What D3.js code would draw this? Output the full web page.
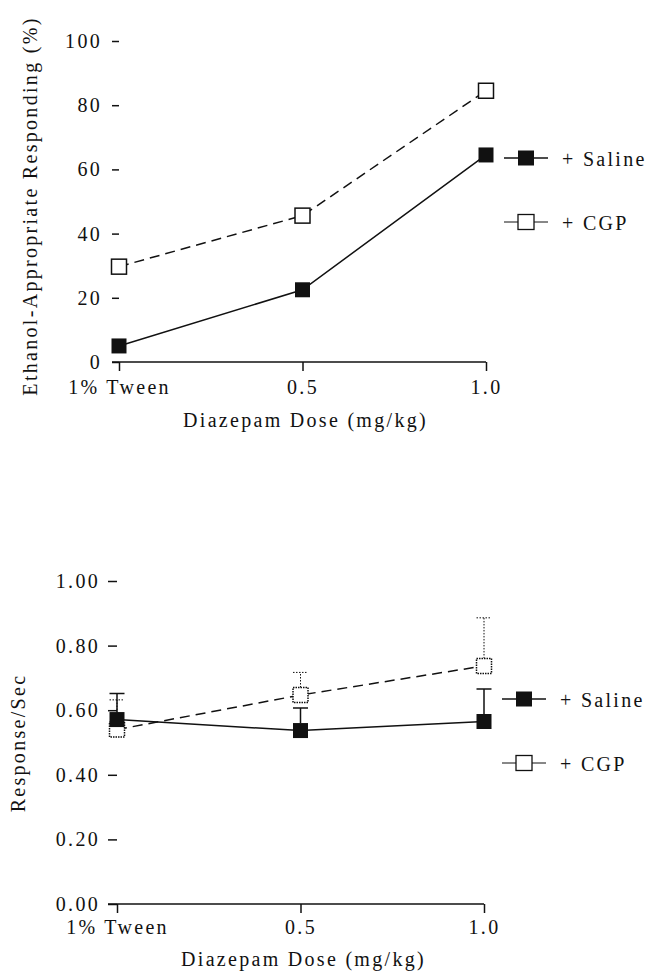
<!DOCTYPE html>
<html>
<head>
<meta charset="utf-8">
<script src="https://cdn.jsdelivr.net/npm/d3@7"></script>
<style>
  body { margin: 0; background: #fff; }
  svg { display: block; }
  svg text { font-family: "Liberation Serif", Tinos, "Times New Roman", Times, "DejaVu Serif", "Noto Serif", serif; fill: #111; }
</style>
</head>
<body>
<svg id="chart" width="647" height="973"></svg>
<script>
'use strict'

// values
const doses = ['1% Tween', '0.5', '1.0']
const etohSaline = [5, 22.5, 64.5]
const etohCGP = [29.7, 45.6, 84.5]
const etohTicks = [0, 20, 40, 60, 80, 100]

const rateSaline = [0.571, 0.537, 0.565]
const rateSalineSem = [0.081, 0.07, 0.101]
const rateCGP = [0.54, 0.647, 0.737]
const rateCGPSem = [0.092, 0.07, 0.149]
const rateTicks = [0, 0.2, 0.4, 0.6, 0.8, 1.0]

const seriesNames = ['+ Saline', '+ CGP']

const svg = d3.select('#chart')
const FS = 20
const LS = 2.3
const SQ = 15

function styleText (sel) {
  sel.attr('font-family', null)
    .style('font-size', FS + 'px')
    .style('letter-spacing', LS + 'px')
    .attr('fill', '#111')
}

function panel (opt) {
  const x = d3.scalePoint().domain(doses).range([opt.x0, opt.x1])
  const y = d3.scaleLinear().domain([0, opt.ymax]).range([opt.yb, opt.yt])
  const g = svg.append('g')

  // y axis: tick dashes only, no spine
  const ya = g.append('g')
    .attr('transform', `translate(${opt.x0},0)`)
    .call(d3.axisLeft(y)
      .tickValues(opt.ticks)
      .tickFormat(opt.fmt)
      .tickSize(opt.ytick)
      .tickPadding(opt.ypad))
  ya.attr('font-family', null).attr('font-size', null)
  ya.select('.domain').remove()
  ya.selectAll('.tick line').attr('stroke', '#111').attr('stroke-width', 1.5)
  ya.selectAll('.tick text').call(styleText)

  // x axis
  const xa = g.append('g')
    .attr('transform', `translate(0,${opt.yb})`)
    .call(d3.axisBottom(x).tickSize(9).tickSizeOuter(0).tickPadding(opt.xpad))
  xa.attr('font-family', null).attr('font-size', null)
  xa.select('.domain').remove()
  xa.selectAll('.tick line')
    .attr('y1', 0).attr('y2', 9)
    .attr('stroke', '#111').attr('stroke-width', 1.5)
  xa.selectAll('.tick text').call(styleText)
  xa.append('path')
    .attr('d', `M${opt.x0 - opt.ytick},0H${opt.x1}`)
    .attr('stroke', '#111').attr('stroke-width', 1.5)

  g.append('text')
    .attr('x', (opt.x0 + opt.x1) / 2 + 3)
    .attr('y', opt.xlabY)
    .attr('text-anchor', 'middle')
    .call(styleText)
    .text('Diazepam Dose (mg/kg)')

  g.append('text')
    .attr('transform', `translate(${opt.ylabX},${opt.ylabMid}) rotate(-90)`)
    .attr('text-anchor', 'middle')
    .call(styleText)
    .text(opt.ylab)

  const line = d3.line().x((d, i) => x(doses[i])).y(d => y(d))

  // error bars (upper only)
  if (opt.semCGP) {
    const bars = [
      { vals: opt.cgp, sem: opt.semCGP, dash: '1.5,1.5', w: 1 },
      { vals: opt.saline, sem: opt.semSaline, dash: null, w: 1.5 }
    ]
    bars.forEach(b => {
      const d = b.vals.map((v, i) => {
        const cx = x(doses[i])
        const top = y(v + b.sem[i])
        return `M${cx},${y(v) - SQ / 2}V${top}M${cx - SQ / 2},${top}H${cx + SQ / 2}`
      }).join('')
      g.append('path')
        .attr('d', d)
        .attr('fill', 'none')
        .attr('stroke', '#111').attr('stroke-width', b.w)
        .attr('stroke-dasharray', b.dash)
    })
  }

  g.append('path')
    .attr('d', line(opt.cgp))
    .attr('fill', 'none').attr('stroke', '#111').attr('stroke-width', 1.5)
    .attr('stroke-dasharray', '10,6')
  g.append('path')
    .attr('d', line(opt.saline))
    .attr('fill', 'none').attr('stroke', '#111').attr('stroke-width', 1.5)

  g.selectAll('rect.cgp')
    .data(opt.cgp)
    .join('rect')
    .attr('class', 'cgp')
    .attr('x', (d, i) => x(doses[i]) - SQ / 2)
    .attr('y', d => y(d) - SQ / 2)
    .attr('width', SQ).attr('height', SQ)
    .attr('fill', '#fff').attr('stroke', '#111').attr('stroke-width', 1.5)
    .attr('stroke-dasharray', opt.semCGP ? '1.5,1' : null)

  g.selectAll('rect.sal')
    .data(opt.saline)
    .join('rect')
    .attr('class', 'sal')
    .attr('x', (d, i) => x(doses[i]) - SQ / 2)
    .attr('y', d => y(d) - SQ / 2)
    .attr('width', SQ).attr('height', SQ)
    .attr('fill', '#111')

  // legend
  const leg = g.append('g').attr('transform', `translate(${opt.legX},0)`)
  opt.legY.forEach((ly, k) => {
    leg.append('path')
      .attr('d', `M0,${ly}H44`)
      .attr('stroke', '#111').attr('stroke-width', k === 0 ? 1.5 : 1)
    leg.append('rect')
      .attr('x', 22 - SQ / 2 - 0.5).attr('y', ly - SQ / 2)
      .attr('width', SQ + 1).attr('height', SQ)
      .attr('fill', k === 0 ? '#111' : '#fff')
      .attr('stroke', '#111').attr('stroke-width', k === 0 ? 0 : 1.3)
    leg.append('text')
      .attr('x', 58).attr('y', ly + 8)
      .call(styleText)
      .text(seriesNames[k])
  })
}

panel({
  x0: 119, x1: 486, yb: 362, yt: 41, ymax: 100,
  ticks: etohTicks, fmt: d3.format('d'),
  ytick: 7, ypad: 10, xpad: 9,
  xlabY: 427, ylabX: 37, ylabMid: 206,
  ylab: 'Ethanol-Appropriate Responding (%)',
  saline: etohSaline, cgp: etohCGP,
  legX: 504, legY: [158, 222]
})

panel({
  x0: 117, x1: 484, yb: 904, yt: 581, ymax: 1,
  ticks: rateTicks, fmt: d3.format('.2f'),
  ytick: 9, ypad: 8, xpad: 7,
  xlabY: 966, ylabX: 25, ylabMid: 743,
  ylab: 'Response/Sec',
  saline: rateSaline, cgp: rateCGP,
  semSaline: rateSalineSem, semCGP: rateCGPSem,
  legX: 502, legY: [699, 763]
})
</script>
</body>
</html>
